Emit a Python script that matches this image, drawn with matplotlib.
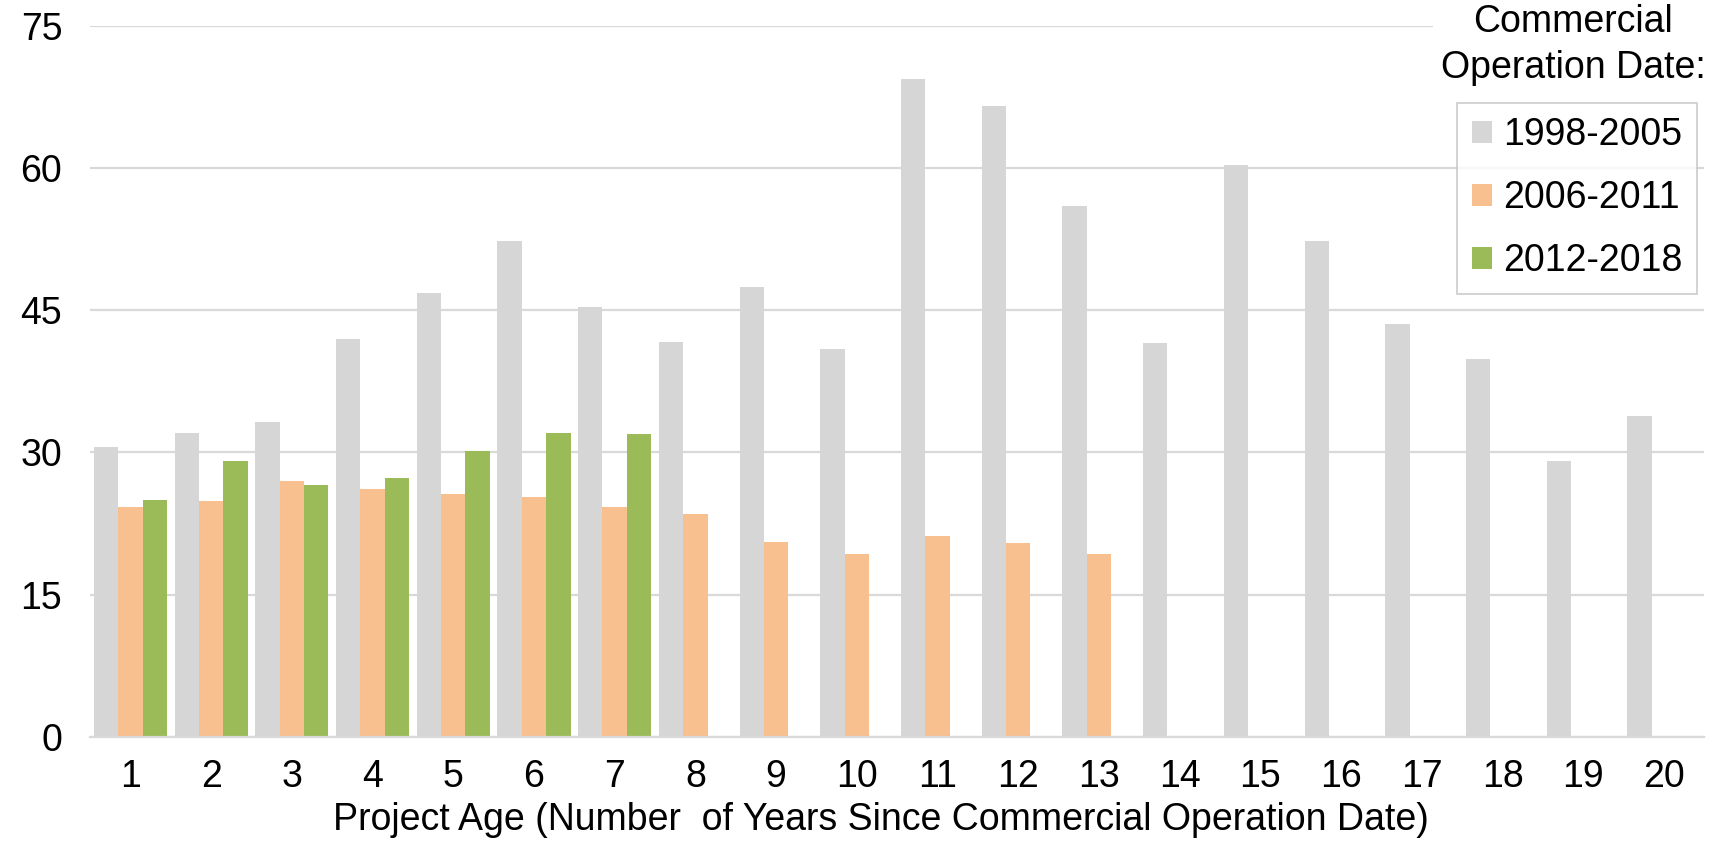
import numpy as np
import matplotlib.pyplot as plt

plt.rcParams['font.family'] = ['Liberation Sans', 'DejaVu Sans']

# Project age in years
ages = np.arange(1, 21)

# Values per commercial operation date cohort
cohort_labels = ["1998-2005", "2006-2011", "2012-2018"]
vals_1998_2005 = [30.6, 32.1, 33.2, 42.0, 46.8, 52.3, 45.3, 41.6, 47.4, 40.9,
                  69.4, 66.5, 56.0, 41.5, 60.3, 52.3, 43.5, 39.9, 29.1, 33.8]
vals_2006_2011 = [24.3, 24.9, 27.0, 26.2, 25.6, 25.3, 24.3, 23.5, 20.6, 19.3,
                  21.2, 20.5, 19.3]
vals_2012_2018 = [25.0, 29.1, 26.6, 27.3, 30.2, 32.1, 31.9]

y_ticks = [0, 15, 30, 45, 60, 75]

colors = ["#D6D6D6", "#F8BF8F", "#9BBB59"]
w = 0.302

fig = plt.figure(figsize=(17.25, 8.55), dpi=100)
ax = fig.add_axes([0.0522, 0.138, 0.9358, 0.832])

series = [vals_1998_2005, vals_2006_2011, vals_2012_2018]
for i, (vals, col, lab) in enumerate(zip(series, colors, cohort_labels)):
    xs = ages[:len(vals)] + (i - 1) * w
    ax.bar(xs, vals, width=w, color=col, label=lab, zorder=2, linewidth=0)

ax.set_xlim(0.5, 20.5)
ax.set_ylim(0, 75)
ax.set_yticks(y_ticks)
ax.set_xticks(ages)
ax.yaxis.grid(True, color="#D9D9D9", linewidth=1.6, zorder=0)
ax.set_axisbelow(True)
for s in ["top", "right", "left"]:
    ax.spines[s].set_visible(False)
ax.spines["bottom"].set_color("#D9D9D9")
ax.spines["bottom"].set_linewidth(1.6)
ax.tick_params(axis="both", length=0, labelsize=27, colors="black")
ax.tick_params(axis="y", pad=20)
ax.tick_params(axis="x", pad=16)

ax.set_xlabel("Project Age (Number  of Years Since Commercial Operation Date)",
              fontsize=27)
ax.xaxis.set_label_coords(0.49, -0.092)

leg = ax.legend(loc="upper right", bbox_to_anchor=(0.9838, 0.8795),
                bbox_transform=fig.transFigure, borderaxespad=0,
                fontsize=27, frameon=True, fancybox=False,
                handlelength=0.55, handleheight=0.55, handletextpad=0.3,
                labelspacing=0.72, borderpad=0.38)
leg.get_frame().set_edgecolor("#BFBFBF")
leg.get_frame().set_linewidth(1.2)
leg.set_zorder(5)

fig.text(0.912, 0.995, "Commercial\nOperation Date:", ha="center", va="top",
         fontsize=27, linespacing=1.35, zorder=6,
         bbox=dict(facecolor="white", edgecolor="none", pad=6))

fig.savefig("out.png", dpi=100)
